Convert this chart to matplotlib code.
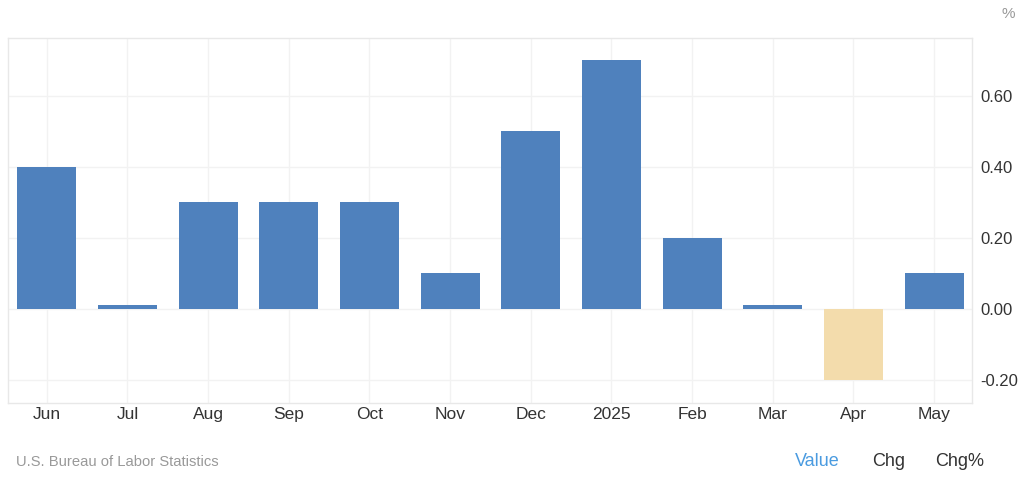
import matplotlib
matplotlib.use("Agg")
import matplotlib.pyplot as plt

plt.rcParams["font.family"] = ["Liberation Sans", "DejaVu Sans"]

categories = ["Jun", "Jul", "Aug", "Sep", "Oct", "Nov", "Dec", "2025", "Feb", "Mar", "Apr", "May"]
values = [0.4, 0.01, 0.3, 0.3, 0.3, 0.1, 0.5, 0.7, 0.2, 0.01, -0.2, 0.1]
yticks = [-0.2, 0.0, 0.2, 0.4, 0.6]
ytick_labels = ["-0.20", "0.00", "0.20", "0.40", "0.60"]

pos_color = "#4f81bd"
neg_color = "#f3dcac"

fig = plt.figure(figsize=(10.24, 4.82), dpi=100)
ax = fig.add_axes([8/1024, 1 - 403/482, (972-8)/1024, (403-38)/482])

x = list(range(len(categories)))
colors = [pos_color if v >= 0 else neg_color for v in values]
ax.bar(x, values, width=0.73, color=colors, zorder=3)

ax.set_xlim(-0.48, len(categories) - 1 + 0.47)
ax.set_ylim(-0.265, 0.763)
ax.set_xticks(x)
ax.set_xticklabels(categories, fontsize=12.5, color="#333333")
ax.set_yticks(yticks)
ax.set_yticklabels(ytick_labels, fontsize=12, color="#333333")
ax.yaxis.tick_right()
ax.tick_params(axis="both", length=0)
ax.tick_params(axis="y", pad=6)
ax.tick_params(axis="x", pad=3)

ax.grid(True, color="#f2f2f2", linewidth=1, zorder=0)
for s in ax.spines.values():
    s.set_color("#e8e8e8")
    s.set_linewidth(1)

fig.text(1008/1024, 1 - 14/482, "%", fontsize=11, color="#999999", ha="center", va="center")
fig.text(16/1024, 1 - 462/482, "U.S. Bureau of Labor Statistics", fontsize=10.6, color="#999999", ha="left", va="center")
fig.text(817/1024, 1 - 461/482, "Value", fontsize=13, color="#4a9be0", ha="center", va="center")
fig.text(889/1024, 1 - 461/482, "Chg", fontsize=13, color="#333333", ha="center", va="center")
fig.text(960/1024, 1 - 461/482, "Chg%", fontsize=13, color="#333333", ha="center", va="center")

fig.savefig("out.png", dpi=100, facecolor="white")
